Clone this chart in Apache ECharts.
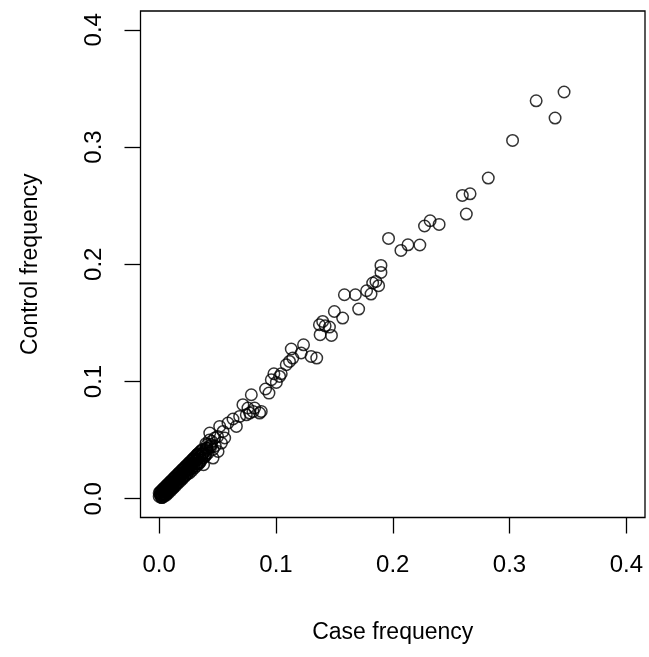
<!DOCTYPE html>
<html>
<head>
<meta charset="utf-8">
<script src="https://cdn.jsdelivr.net/npm/echarts@6/dist/echarts.min.js"></script>
<style>
html,body{margin:0;padding:0;background:#fff;}
#chart{width:649px;height:657px;}
</style>
</head>
<body>
<div id="chart"></div>
<script>
// Data
var caseFreq = [
  0.3467, 0.3228, 0.3390, 0.3026, 0.2818, 0.2596, 0.2662, 0.2630, 0.2397, 0.2320,
  0.2272, 0.2232, 0.2130, 0.2070, 0.1964, 0.1899, 0.1899, 0.1856, 0.1828, 0.1879,
  0.1776, 0.1814, 0.1680, 0.1586, 0.1708, 0.1500, 0.1571, 0.1400, 0.1421, 0.1372,
  0.1458, 0.1378, 0.1475, 0.1236, 0.1131, 0.1216, 0.1301, 0.1349, 0.1144, 0.1116,
  0.1088, 0.0982, 0.1045, 0.1031, 0.0960, 0.1003, 0.0911, 0.0940, 0.0789, 0.0717,
  0.0760, 0.0817, 0.0874, 0.0803, 0.0775, 0.0860, 0.0746, 0.0689, 0.0632, 0.0589,
  0.0661, 0.0518, 0.0547, 0.0433, 0.0476, 0.0561, 0.0533, 0.0447, 0.0405, 0.0461,
  0.0504,
  0.000, 0.001, 0.001, 0.002, 0.002, 0.003, 0.003, 0.004, 0.004, 0.005,
  0.005, 0.006, 0.006, 0.007, 0.007, 0.008, 0.008, 0.009, 0.010, 0.010,
  0.011, 0.012, 0.012, 0.013, 0.014, 0.015, 0.015, 0.016, 0.017, 0.018,
  0.018, 0.019, 0.020, 0.021, 0.022, 0.023, 0.024, 0.025, 0.026, 0.027,
  0.028, 0.029, 0.030, 0.031, 0.032, 0.033, 0.034, 0.035, 0.036, 0.037,
  0.038, 0.039, 0.040, 0.041, 0.042, 0.038, 0.036, 0.040, 0.044, 0.043,
  0.046, 0.048, 0.050,
  0.000, 0.001, 0.002, 0.003, 0.004, 0.005, 0.006, 0.007, 0.008, 0.009,
  0.010, 0.011, 0.012, 0.013, 0.014, 0.015, 0.016, 0.017, 0.018, 0.019,
  0.020, 0.021, 0.022, 0.023, 0.024, 0.025, 0.026, 0.027, 0.028, 0.029,
  0.030, 0.031, 0.032, 0.033, 0.034, 0.035, 0.002, 0.004, 0.006, 0.008,
  0.010, 0.012, 0.014, 0.016, 0.018, 0.020, 0.022, 0.024, 0.026, 0.028,
  0.030, 0.032, 0.034, 0.003, 0.005, 0.009, 0.013, 0.017, 0.021, 0.025,
  0.029, 0.033, 0.037, 0.039, 0.041, 0.045, 0.035, 0.033,
  0.0015, 0.0045, 0.0075, 0.0105, 0.0135, 0.0165, 0.0195, 0.0225, 0.0255, 0.0285,
  0.0315, 0.0345, 0.0375, 0.0405, 0.0435, 0.0025, 0.0065, 0.0115, 0.0155, 0.0205,
  0.0245, 0.0275, 0.0325, 0.0365, 0.0395
];
var controlFreq = [
  0.3469, 0.3394, 0.3247, 0.3056, 0.2735, 0.2587, 0.2601, 0.2428, 0.2340, 0.2371,
  0.2326, 0.2164, 0.2166, 0.2118, 0.2220, 0.1990, 0.1930, 0.1853, 0.1840, 0.1817,
  0.1774, 0.1746, 0.1740, 0.1740, 0.1618, 0.1597, 0.1541, 0.1512, 0.1475, 0.1484,
  0.1464, 0.1399, 0.1393, 0.1313, 0.1277, 0.1243, 0.1214, 0.1200, 0.1200, 0.1171,
  0.1143, 0.1066, 0.1066, 0.1043, 0.1015, 0.0992, 0.0936, 0.0901, 0.0887, 0.0802,
  0.0774, 0.0774, 0.0745, 0.0745, 0.0731, 0.0731, 0.0716, 0.0702, 0.0680, 0.0646,
  0.0617, 0.0617, 0.0574, 0.0560, 0.0518, 0.0518, 0.0475, 0.0461, 0.0432, 0.0347,
  0.0403,
  0.002, 0.003, 0.005, 0.002, 0.004, 0.003, 0.006, 0.004, 0.007, 0.005,
  0.003, 0.006, 0.008, 0.007, 0.005, 0.009, 0.011, 0.008, 0.010, 0.012,
  0.009, 0.013, 0.011, 0.015, 0.012, 0.016, 0.014, 0.018, 0.016, 0.019,
  0.017, 0.021, 0.018, 0.022, 0.020, 0.024, 0.023, 0.027, 0.025, 0.028,
  0.026, 0.030, 0.028, 0.032, 0.030, 0.034, 0.031, 0.036, 0.033, 0.038,
  0.035, 0.040, 0.037, 0.043, 0.039, 0.029, 0.041, 0.047, 0.044, 0.050,
  0.042, 0.045, 0.053,
  0.005, 0.006, 0.007, 0.008, 0.009, 0.010, 0.011, 0.012, 0.013, 0.014,
  0.015, 0.016, 0.017, 0.018, 0.019, 0.020, 0.021, 0.022, 0.023, 0.024,
  0.025, 0.026, 0.027, 0.028, 0.029, 0.030, 0.031, 0.032, 0.033, 0.034,
  0.035, 0.036, 0.037, 0.038, 0.039, 0.040, 0.001, 0.002, 0.003, 0.005,
  0.007, 0.009, 0.011, 0.013, 0.015, 0.017, 0.019, 0.021, 0.022, 0.024,
  0.026, 0.028, 0.030, 0.007, 0.009, 0.013, 0.017, 0.021, 0.025, 0.029,
  0.033, 0.037, 0.042, 0.036, 0.046, 0.049, 0.031, 0.038,
  0.0035, 0.0060, 0.0085, 0.0120, 0.0150, 0.0175, 0.0210, 0.0240, 0.0270, 0.0300,
  0.0330, 0.0360, 0.0390, 0.0420, 0.0450, 0.0010, 0.0050, 0.0090, 0.0135, 0.0185,
  0.0220, 0.0260, 0.0300, 0.0345, 0.0375
];
var tickValues = [0, 0.1, 0.2, 0.3, 0.4];
var xTitle = 'Case frequency';
var yTitle = 'Control frequency';

var points = caseFreq.map(function (c, i) { return [c, controlFreq[i]]; });

var chart = echarts.init(document.getElementById('chart'), null, {renderer: 'canvas'});
var font = 'Arial, "Liberation Sans", sans-serif';
chart.setOption({
  animation: false,
  backgroundColor: '#fff',
  grid: {
    left: 140.5, right: 4, top: 11, bottom: 139.5,
    show: true, borderColor: '#000', borderWidth: 1.3, backgroundColor: 'transparent'
  },
  xAxis: {
    type: 'value', min: -0.016, max: 0.416,
    splitLine: {show: false},
    axisLine: {show: false, onZero: false},
    axisTick: {show: true, length: 16, inside: false, customValues: tickValues,
      lineStyle: {color: '#000', width: 1.3}},
    axisLabel: {show: true, customValues: tickValues, margin: 36, color: '#000',
      fontFamily: font, fontSize: 24,
      formatter: function (v) { return v.toFixed(1); }},
    name: xTitle, nameLocation: 'middle', nameGap: 104,
    nameTextStyle: {color: '#000', fontFamily: font, fontSize: 23}
  },
  yAxis: {
    type: 'value', min: -0.016, max: 0.416,
    splitLine: {show: false},
    axisLine: {show: false, onZero: false},
    axisTick: {show: true, length: 16, inside: false, customValues: tickValues,
      lineStyle: {color: '#000', width: 1.3}},
    axisLabel: {show: true, customValues: tickValues, margin: 34, rotate: 90, color: '#000',
      fontFamily: font, fontSize: 24,
      formatter: function (v) { return v.toFixed(1); }},
    name: yTitle, nameLocation: 'middle', nameGap: 98, nameRotate: 90,
    nameTextStyle: {color: '#000', fontFamily: font, fontSize: 23}
  },
  series: [{
    type: 'scatter',
    data: points,
    symbol: 'circle',
    symbolSize: 11.5,
    itemStyle: {color: 'rgba(0,0,0,0)', borderColor: '#000', borderWidth: 1.5},
    emphasis: {disabled: true}
  }]
});
</script>
</body>
</html>
